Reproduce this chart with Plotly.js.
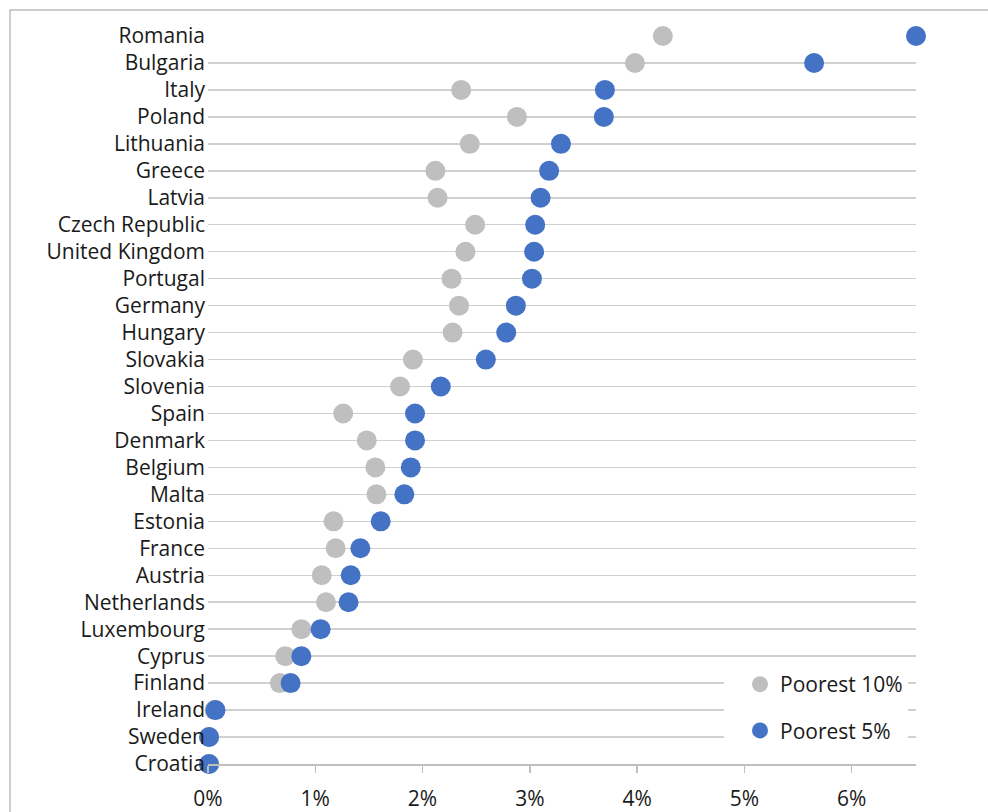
<!DOCTYPE html>
<html>
<head>
<meta charset="utf-8">
<script src="https://cdn.plot.ly/plotly-3.0.1.min.js"></script>
<style>html,body{margin:0;padding:0;background:#fff;}#chart{width:988px;height:812px;}</style>
</head>
<body>
<div id="chart"></div>
<script>
// Countries, top to bottom as shown
const countries = ["Romania","Bulgaria","Italy","Poland","Lithuania","Greece","Latvia","Czech Republic","United Kingdom","Portugal","Germany","Hungary","Slovakia","Slovenia","Spain","Denmark","Belgium","Malta","Estonia","France","Austria","Netherlands","Luxembourg","Cyprus","Finland","Ireland","Sweden","Croatia"];
// Poorest 10% (percent)
const poorest10 = [4.24,3.98,2.36,2.88,2.44,2.12,2.14,2.49,2.40,2.27,2.34,2.28,1.91,1.79,1.26,1.48,1.56,1.57,1.17,1.19,1.06,1.10,0.87,0.72,0.67,0.06,0.01,0.01];
// Poorest 5% (percent)
const poorest5 = [6.60,5.65,3.70,3.69,3.29,3.18,3.10,3.05,3.04,3.02,2.87,2.78,2.59,2.17,1.93,1.93,1.89,1.83,1.61,1.42,1.33,1.31,1.05,0.87,0.77,0.07,0.01,0.01];
const xTicks = [0,1,2,3,4,5,6];
const xTickText = ["0%","1%","2%","3%","4%","5%","6%"];

const FONT = "Open Sans, Noto Sans, sans-serif";
const traces = [
  {type:"scatter", mode:"markers", name:"Poorest 10%", legendgroup:"a",
   x:poorest10, y:countries, marker:{color:"#BFBFBF", size:20}, cliponaxis:false, hoverinfo:"x+y"},
  {type:"scatter", mode:"markers", name:"Poorest 5%", legendgroup:"b",
   x:poorest5, y:countries, marker:{color:"#4472C4", size:20}, cliponaxis:false, hoverinfo:"x+y"}
];
const W=988, L=208, R=72, T=36, B=48;
const pw = W-L-R, ph = 812-T-B;
const layout = {
  width:988, height:812,
  margin:{l:L, r:R, t:T, b:B, pad:0},
  paper_bgcolor:"#fff", plot_bgcolor:"#fff",
  font:{family:FONT, size:21, color:"#1a1a1a"},
  showlegend:true,
  legend:{x:(724-L)/pw, xanchor:"left", y:(764-664)/ph, yanchor:"top",
          bgcolor:"#fff", borderwidth:0, tracegroupgap:16, traceorder:"grouped",
          font:{family:FONT, size:21, color:"#1a1a1a"}, indentation:16},
  xaxis:{range:[0,6.6], tickvals:xTicks, ticktext:xTickText, showgrid:false, zeroline:false,
         showline:true, linecolor:"#BFBFBF", linewidth:1.5, ticks:"outside", ticklen:7,
         tickcolor:"#BFBFBF", tickwidth:1.5, ticklabelstandoff:8, fixedrange:true},
  yaxis:{type:"category", categoryorder:"array", categoryarray:countries.slice().reverse(),
         range:[0,27], showgrid:true, gridcolor:"#D0D0D0", gridwidth:1.5, zeroline:false,
         showline:false, ticks:"", ticklabelstandoff:2, fixedrange:true},
  shapes:[{type:"rect", xref:"paper", yref:"paper",
           x0:(10-L)/pw, x1:(1000-L)/pw, y0:(764-830)/ph, y1:(764-10)/ph,
           line:{color:"#BFBFBF", width:1.5}, fillcolor:"rgba(0,0,0,0)", layer:"below"}]
};
Plotly.newPlot("chart", traces, layout, {displayModeBar:false, staticPlot:true});
</script>
</body>
</html>
